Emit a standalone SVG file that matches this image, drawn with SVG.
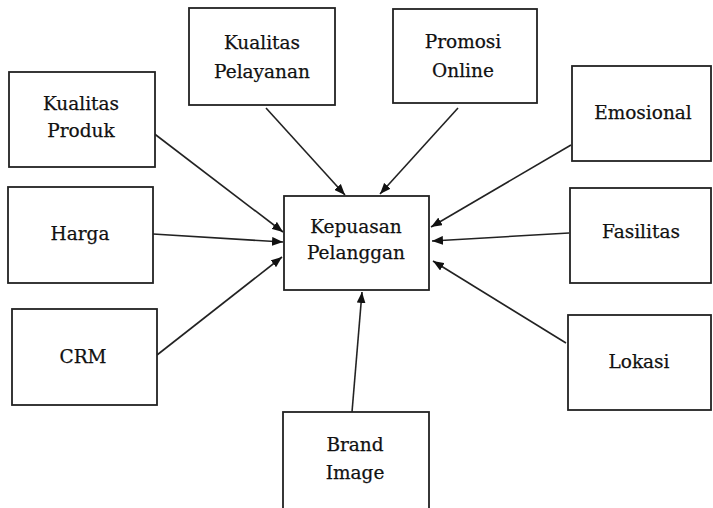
<svg xmlns="http://www.w3.org/2000/svg" width="713" height="508" viewBox="0 0 713 508">
<style>
.box{fill:#fff;stroke:#222;stroke-width:1.8}
.t{font-family:"DejaVu Serif","Liberation Serif",serif;font-size:18.5px;fill:#111;stroke:#111;stroke-width:0.25;text-anchor:middle}
.c{stroke:#222;stroke-width:1.6;fill:none;marker-end:url(#ah)}
</style>
<defs>
<marker id="ah" viewBox="0 0 10 8" refX="10" refY="4" markerWidth="11" markerHeight="9" markerUnits="userSpaceOnUse" orient="auto">
<path d="M0,0 L10,4 L0,8 Z" fill="#111"/>
</marker>
</defs>
<rect width="713" height="508" fill="#fff"/>
<g id="connectors">
<line class="c" x1="152" y1="132" x2="283" y2="232"/>
<line class="c" x1="153" y1="234" x2="283" y2="242"/>
<line class="c" x1="157" y1="355" x2="282" y2="257"/>
<line class="c" x1="266" y1="108" x2="345" y2="195"/>
<line class="c" x1="458" y1="108" x2="380" y2="194"/>
<line class="c" x1="571" y1="145" x2="431" y2="227"/>
<line class="c" x1="569" y1="233" x2="432" y2="241"/>
<line class="c" x1="566" y1="343" x2="433" y2="261"/>
<line class="c" x1="352" y1="412" x2="362" y2="292"/>
</g>
<g id="kualitas-produk"><rect class="box" x="9" y="72" width="146" height="95"/><text class="t" x="81" y="110">Kualitas</text><text class="t" x="81" y="137">Produk</text></g>
<g id="harga"><rect class="box" x="8" y="187" width="145" height="96"/><text class="t" x="80" y="240">Harga</text></g>
<g id="crm"><rect class="box" x="12" y="309" width="145" height="96"/><text class="t" x="83" y="363">CRM</text></g>
<g id="kualitas-pelayanan"><rect class="box" x="189" y="8" width="146" height="97"/><text class="t" x="262" y="49">Kualitas</text><text class="t" x="262" y="78">Pelayanan</text></g>
<g id="promosi-online"><rect class="box" x="393" y="9" width="144" height="94"/><text class="t" x="463" y="48">Promosi</text><text class="t" x="463" y="77">Online</text></g>
<g id="emosional"><rect class="box" x="572" y="66" width="139" height="95"/><text class="t" x="643" y="119">Emosional</text></g>
<g id="fasilitas"><rect class="box" x="570" y="188" width="141" height="95"/><text class="t" x="641" y="238">Fasilitas</text></g>
<g id="lokasi"><rect class="box" x="568" y="315" width="143" height="95"/><text class="t" x="639" y="368">Lokasi</text></g>
<g id="kepuasan-pelanggan"><rect class="box" x="284" y="196" width="145" height="94"/><text class="t" x="356" y="233">Kepuasan</text><text class="t" x="356" y="259">Pelanggan</text></g>
<g id="brand-image"><rect class="box" x="283" y="412" width="146" height="100"/><text class="t" x="355" y="451">Brand</text><text class="t" x="355" y="479">Image</text></g>
</svg>
